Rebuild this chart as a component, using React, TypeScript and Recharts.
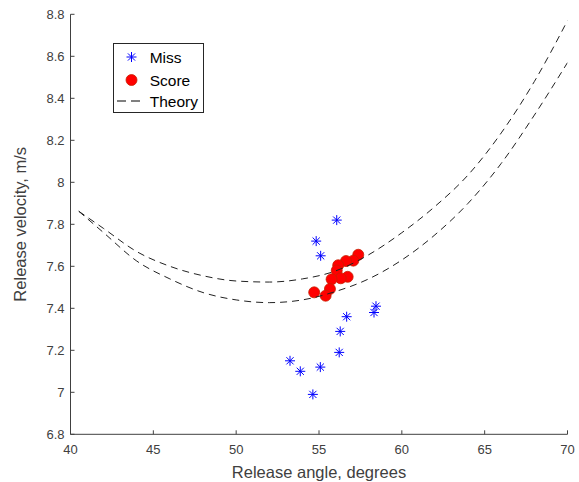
import { ScatterChart, Scatter, XAxis, YAxis, Label, Legend } from 'recharts';

const missAngle = [56.07, 54.83, 55.1, 58.44, 58.32, 56.67, 56.28, 56.22, 53.25, 53.87, 55.08, 54.63];
const missVelocity = [7.82, 7.72, 7.65, 7.41, 7.38, 7.36, 7.29, 7.19, 7.15, 7.1, 7.12, 6.99];

const scoreAngle = [57.37, 57.07, 56.63, 56.16, 56.07, 56.73, 56.31, 55.76, 55.66, 54.71, 55.4];
const scoreVelocity = [7.655, 7.627, 7.625, 7.605, 7.58, 7.55, 7.543, 7.538, 7.492, 7.476, 7.46];

const theoryAngle = [40.5, 42, 44, 46, 48, 50, 52, 54, 56, 58, 60, 62, 64, 66, 68, 70];
const theoryUpper = [7.862, 7.78, 7.67, 7.6, 7.555, 7.53, 7.525, 7.54, 7.578, 7.655, 7.76, 7.885, 8.035, 8.235, 8.48, 8.77];
const theoryLower = [7.862, 7.76, 7.625, 7.54, 7.475, 7.44, 7.427, 7.44, 7.48, 7.54, 7.63, 7.75, 7.9, 8.09, 8.32, 8.57];

const xTicks = [40, 45, 50, 55, 60, 65, 70];
const yTicks = [6.8, 7, 7.2, 7.4, 7.6, 7.8, 8, 8.2, 8.4, 8.6, 8.8];

const miss = missAngle.map((x, i) => ({ x, y: missVelocity[i] }));
const score = scoreAngle.map((x, i) => ({ x, y: scoreVelocity[i] }));
const upper = theoryAngle.map((x, i) => ({ x, y: theoryUpper[i] }));
const lower = theoryAngle.map((x, i) => ({ x, y: theoryLower[i] }));

const AXIS = '#404040';
const FONT = '"Liberation Sans", Arial, sans-serif';
const TICK_LEN = 4;

const fmt = (v: number) => String(Number(v.toFixed(1)));

const BottomTick = (p: any) => (
  <g>
    <line x1={p.x} y1={p.y} x2={p.x} y2={p.y - TICK_LEN} stroke={AXIS} />
    <text x={p.x} y={p.y + 20} textAnchor="middle" fontSize={13} fill={AXIS} fontFamily={FONT}>
      {fmt(p.payload.value)}
    </text>
  </g>
);
const TopTick = (p: any) => <line x1={p.x} y1={p.y} x2={p.x} y2={p.y + TICK_LEN} stroke={AXIS} />;
const LeftTick = (p: any) => (
  <g>
    <line x1={p.x} y1={p.y} x2={p.x + TICK_LEN} y2={p.y} stroke={AXIS} />
    <text x={p.x - 6} y={p.y + 4.5} textAnchor="end" fontSize={13} fill={AXIS} fontFamily={FONT}>
      {fmt(p.payload.value)}
    </text>
  </g>
);
const RightTick = (p: any) => <line x1={p.x - TICK_LEN} y1={p.y} x2={p.x} y2={p.y} stroke={AXIS} />;

const Star = (p: any) => {
  const { cx, cy } = p;
  const r = 5;
  const d = 3.6;
  return (
    <g stroke="#0000ff" strokeWidth={1}>
      <line x1={cx - r} y1={cy} x2={cx + r} y2={cy} />
      <line x1={cx} y1={cy - r} x2={cx} y2={cy + r} />
      <line x1={cx - d} y1={cy - d} x2={cx + d} y2={cy + d} />
      <line x1={cx - d} y1={cy + d} x2={cx + d} y2={cy - d} />
    </g>
  );
};
const Dot = (p: any) => <circle cx={p.cx} cy={p.cy} r={5.5} fill="#ff0000" stroke="#c81e00" strokeWidth={0.8} />;
const NoShape = () => <g />;

const LegendBox = () => (
  <div
    style={{
      width: 91,
      height: 70,
      boxSizing: 'border-box',
      border: '1px solid #262626',
      background: '#fff',
      fontFamily: FONT,
      fontSize: 15.5,
      color: '#000',
      position: 'relative',
    }}
  >
    <svg width={91} height={70} style={{ position: 'absolute', left: -1, top: -1 }}>
      <Star cx={18.5} cy={14} />
      <Dot cx={18.5} cy={37} />
      <line x1={4} y1={58} x2={32} y2={58} stroke="#000" strokeDasharray="9 5" />
    </svg>
    <div style={{ position: 'absolute', left: 36, top: 5, lineHeight: '18px' }}>Miss</div>
    <div style={{ position: 'absolute', left: 36, top: 28, lineHeight: '18px' }}>Score</div>
    <div style={{ position: 'absolute', left: 36, top: 49, lineHeight: '18px' }}>Theory</div>
  </div>
);

export default function App() {
  return (
    <div>
      <style>{'body{margin:0}'}</style>
      <ScatterChart width={579} height={482} margin={{ top: 14.3, right: 11.5, bottom: 0, left: 0 }}>
        <XAxis
          type="number"
          dataKey="x"
          domain={[40, 70]}
          ticks={xTicks}
          allowDataOverflow
          height={47.7}
          stroke={AXIS}
          tickSize={0}
          tickMargin={0}
          tick={BottomTick}
        >
          <Label
            value="Release angle, degrees"
            position="insideBottom"
            offset={4.5}
            style={{ fontSize: 16.5, fill: AXIS, fontFamily: FONT }}
          />
        </XAxis>
        <XAxis
          xAxisId="top"
          orientation="top"
          type="number"
          dataKey="x"
          domain={[40, 70]}
          ticks={xTicks}
          allowDataOverflow
          height={0}
          stroke={AXIS}
          tickSize={0}
          tickMargin={0}
          tick={TopTick}
        />
        <YAxis
          type="number"
          dataKey="y"
          domain={[6.8, 8.8]}
          ticks={yTicks}
          allowDataOverflow
          width={70.5}
          stroke={AXIS}
          tickSize={0}
          tickMargin={0}
          tick={LeftTick}
        >
          <Label
            value="Release velocity, m/s"
            angle={-90}
            position="insideLeft"
            offset={20}
            style={{ fontSize: 16.5, fill: AXIS, fontFamily: FONT, textAnchor: 'middle' }}
          />
        </YAxis>
        <YAxis
          yAxisId="right"
          orientation="right"
          type="number"
          dataKey="y"
          domain={[6.8, 8.8]}
          ticks={yTicks}
          allowDataOverflow
          width={0}
          stroke={AXIS}
          tickSize={0}
          tickMargin={0}
          tick={RightTick}
        />
        <Legend
          layout="vertical"
          align="center"
          verticalAlign="middle"
          wrapperStyle={{ left: 112.7, top: 43, width: 91, height: 70 }}
          content={() => <LegendBox />}
        />
        <Scatter name="Miss" data={miss} shape={Star} isAnimationActive={false} />
        <Scatter name="Score" data={score} shape={Dot} isAnimationActive={false} />
        <Scatter
          name="Theory"
          data={upper}
          shape={NoShape}
          line={{ stroke: '#222', strokeDasharray: '7 5', strokeWidth: 1 }}
          lineJointType="monotoneX"
          isAnimationActive={false}
        />
        <Scatter
          name="Theory2"
          data={lower}
          shape={NoShape}
          legendType="none"
          line={{ stroke: '#222', strokeDasharray: '7 5', strokeWidth: 1 }}
          lineJointType="monotoneX"
          isAnimationActive={false}
        />
      </ScatterChart>
    </div>
  );
}
